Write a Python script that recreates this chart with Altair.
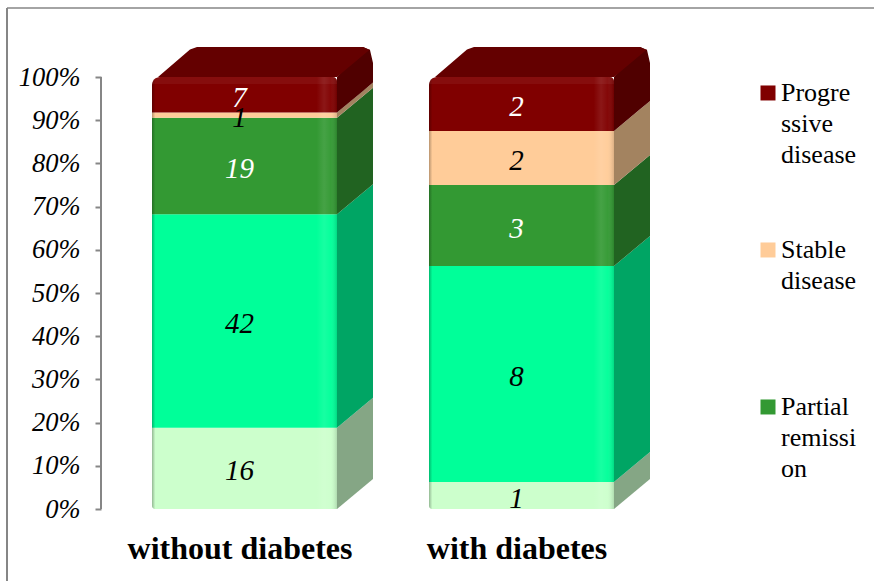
import altair as alt
import pandas as pd

# Patient counts per response group
categories = ["without diabetes", "with diabetes"]
series = ["Unlabelled A", "Unlabelled B", "Partial remission", "Stable disease", "Progressive disease"]
without_diabetes = [16, 42, 19, 1, 7]
with_diabetes = [1, 8, 3, 2, 2]
front_colors = ["#CCFFCC", "#00FF99", "#339933", "#FFCC99", "#800000"]
side_colors = ["#85A685", "#00A564", "#216321", "#A38360", "#500000"]
label_colors = ["black", "black", "white", "black", "white"]
legend_series = ["Progressive disease", "Stable disease", "Partial remission"]
legend_lines = {
    "Progressive disease": ["Progre", "ssive", "disease"],
    "Stable disease": ["Stable", "disease", " "],
    "Partial remission": ["Partial", "remissi", "on"],
}

# Plot geometry: one x unit is one category band, one y unit is 100 %
BAND_PX, FULL_PX = 277.0, 432.0
FRONT_L, FRONT_R = 51 / BAND_PX, 236 / BAND_PX
DX, DY = 36 / BAND_PX, 30 / FULL_PX
px_x = lambda p: p / BAND_PX
px_y = lambda p: p / FULL_PX
FONT = "Liberation Serif"
GREY = "#868686"

front_rows, side_rows, top_rows = [], [], []
for c, (name, counts) in enumerate(zip(categories, [without_diabetes, with_diabetes])):
    total = sum(counts)
    base = 0.0
    xl, xr = c + FRONT_L, c + FRONT_R
    for i, (s, n) in enumerate(zip(series, counts)):
        lo, hi = base / total, (base + n) / total
        base += n
        top = i == len(series) - 1
        front_rows.append(dict(cat=name, series=s, n=n, xl=xl, xr=xr, lo=lo, hi=hi,
                               mx=c + 0.5, my=(lo + hi) / 2, txt=label_colors[i],
                               top=top, bottom=i == 0))
        # side face: parallelogram running back from the front's right edge
        edge = [(0, 0), (26, 0), (33, -3), (36, -16)] if top else [(0, 0), (36, 0)]
        for off, drop in edge:
            frac = off / 36
            upper = (hi + DY + px_y(drop)) if (top and off > 0) else hi + frac * DY
            side_rows.append(dict(cat=name, series=s, gx=xr + px_x(off),
                                  low=lo + frac * DY, up=upper, face=side_colors[i]))
    # top face with softened corners
    for off_px, up_px in [(6, 0), (38, 27.5), (45, 30)]:
        top_rows.append(dict(cat=name, gx=xl + px_x(off_px), low=1.0, up=1 + px_y(up_px)))
    top_rows.append(dict(cat=name, gx=xr, low=1.0, up=1 + DY))
    for off_px, up_px in [(26, 30), (33, 27)]:
        top_rows.append(dict(cat=name, gx=xr + px_x(off_px), low=1 + off_px / 36 * DY, up=1 + px_y(up_px)))

front = pd.DataFrame(front_rows)
sides = pd.DataFrame(side_rows)
tops = pd.DataFrame(top_rows)
whole = front.groupby("cat", sort=False).agg(xl=("xl", "first"), xr=("xr", "first")).reset_index()
whole["lo"], whole["hi"] = 0.0, 1.0
bevel = whole.assign(lo=1 - px_y(7))

x_scale = alt.Scale(domain=[0, 2], nice=False, zero=False)
y_scale = alt.Scale(domain=[0, 1 + DY], nice=False, zero=False)

label_expr = "{" + ",".join(
    f"'{k}':[" + ",".join(f"'{t}'" for t in v) + "]" for k, v in legend_lines.items()
) + "}[datum.label]"

# Frame lines around the chart
frame_left = alt.Chart(pd.DataFrame({"a": [0]})).mark_rule(color=GREY, strokeWidth=2).encode(
    x=alt.value(-94), y=alt.value(-39), y2=alt.value(534))
frame_top = alt.Chart(pd.DataFrame({"a": [0]})).mark_rule(color=GREY, strokeWidth=1.5).encode(
    x=alt.value(-94), x2=alt.value(773), y=alt.value(-39))

# Value axis line stops at 100 %
axis_line = alt.Chart(pd.DataFrame({"lo": [0.0], "hi": [1.0]})).mark_rule(color=GREY, strokeWidth=2).encode(
    x=alt.value(0),
    y=alt.Y("lo:Q", scale=y_scale, axis=alt.Axis(
        values=[i / 10 for i in range(11)], format=".0%", title=None, domain=False, grid=False,
        tickSize=6, tickColor=GREY, tickWidth=2, labelPadding=15, labelFont=FONT, labelFontSize=26.5,
        labelFontStyle="italic", labelColor="black", labelOverlap=False, labelFlush=False)),
    y2="hi:Q",
)

side_layer = alt.Chart(sides).mark_area(orient="vertical", opacity=1).encode(
    x=alt.X("gx:Q", scale=x_scale, axis=alt.Axis(
        values=[0.5, 1.5], labelExpr="datum.value < 1 ? 'without diabetes' : 'with diabetes'",
        title=None, domain=False, ticks=False, grid=False, labelPadding=24, labelFont=FONT,
        labelFontSize=32, labelFontWeight="bold", labelColor="black", labelOverlap=False,
        labelFlush=False, labelLimit=400, labelAngle=0)),
    y=alt.Y("low:Q", scale=y_scale),
    y2="up:Q",
    fill=alt.Fill("face:N", scale=None),
    detail=["cat:N", "series:N"],
)

top_layer = alt.Chart(tops).mark_area(orient="vertical", fill="#640000", opacity=1).encode(
    x=alt.X("gx:Q", scale=x_scale),
    y=alt.Y("low:Q", scale=y_scale),
    y2="up:Q",
    detail="cat:N",
)

front_layer = alt.Chart(front).mark_bar(
    cornerRadiusTopLeft=alt.expr("datum.top ? 8 : 0"),
    cornerRadiusTopRight=alt.expr("datum.top ? 4 : 0"),
    cornerRadiusBottomLeft=alt.expr("datum.bottom ? 3 : 0"),
).encode(
    x=alt.X("xl:Q", scale=x_scale),
    x2="xr:Q",
    y=alt.Y("lo:Q", scale=y_scale),
    y2="hi:Q",
    color=alt.Color("series:N", scale=alt.Scale(domain=series, range=front_colors), legend=alt.Legend(
        values=legend_series, orient="none", legendX=654, legendY=41, title=None,
        labelExpr=label_expr, labelFont=FONT, labelFontSize=26, labelColor="black",
        labelBaseline="alphabetic", labelLimit=200, labelOffset=0, rowPadding=69, padding=0,
        symbolSize=225, symbolStrokeWidth=0, symbolOpacity=1,
        symbolType="M-1,-2.07H1V-0.07H-1Z")),
)

# Rim shading across the front face
rim = alt.LinearGradient(gradient="linear", x1=0, x2=1, y1=0, y2=0, stops=[
    alt.GradientStop(offset=0, color="rgba(0,0,0,0.28)"),
    alt.GradientStop(offset=0.018, color="rgba(0,0,0,0)"),
    alt.GradientStop(offset=0.89, color="rgba(255,255,255,0)"),
    alt.GradientStop(offset=0.93, color="rgba(255,255,255,0.09)"),
    alt.GradientStop(offset=0.965, color="rgba(255,255,255,0.03)"),
    alt.GradientStop(offset=1, color="rgba(0,0,0,0.14)"),
])
rim_layer = alt.Chart(whole).mark_bar(
    fill=rim, cornerRadiusTopLeft=8, cornerRadiusTopRight=4, cornerRadiusBottomLeft=3
).encode(
    x=alt.X("xl:Q", scale=x_scale), x2="xr:Q",
    y=alt.Y("lo:Q", scale=y_scale), y2="hi:Q",
)

# Lighter lip along the top edge of the front face
lip_layer = alt.Chart(bevel).mark_bar(
    fill="white", opacity=0.05, cornerRadiusTopLeft=8, cornerRadiusTopRight=4
).encode(
    x=alt.X("xl:Q", scale=x_scale), x2="xr:Q",
    y=alt.Y("lo:Q", scale=y_scale), y2="hi:Q",
)

text_layer = alt.Chart(front).mark_text(
    font=FONT, fontSize=29, fontStyle="italic", baseline="middle", dy=3
).encode(
    x=alt.X("mx:Q", scale=x_scale),
    y=alt.Y("my:Q", scale=y_scale),
    text="n:Q",
    fill=alt.Fill("txt:N", scale=None),
)

chart = alt.layer(
    frame_left, frame_top, axis_line, side_layer, top_layer, front_layer, rim_layer, lip_layer, text_layer
).properties(
    width=554, height=462,
    padding={"left": 101, "top": 47, "right": 219, "bottom": 72},
    autosize=alt.AutoSizeParams(type="none"),
    background="white",
).configure(
    style={"guide-label": {"lineHeight": 31}}
).configure_view(stroke=None).configure_legend(gridAlign="all")

chart.save("out.html", embed_options={"renderer": "svg", "actions": False})
